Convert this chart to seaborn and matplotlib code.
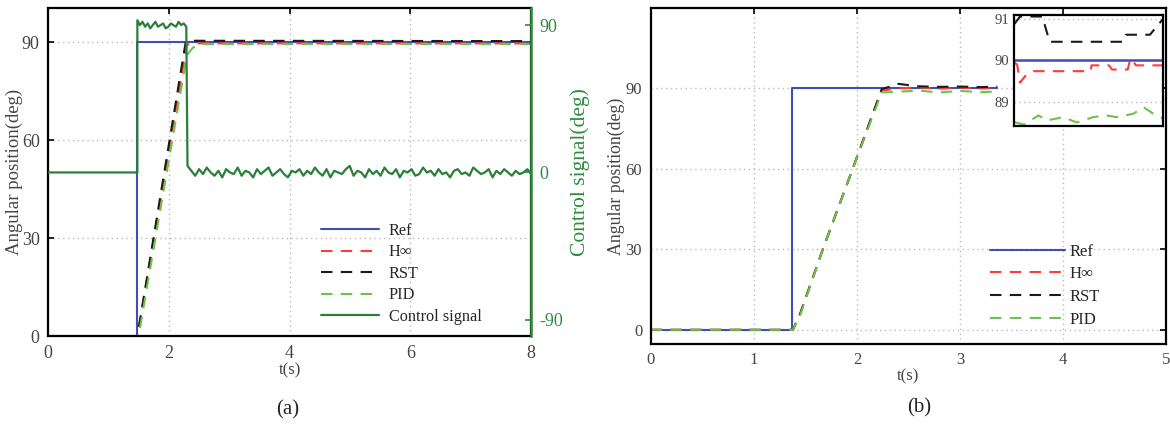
# step response comparison, two panels (a) and (b)
import numpy as np
import matplotlib
matplotlib.use("Agg")
import matplotlib.pyplot as plt
import seaborn as sns

# ---- panel (a) data ----
t_ref_a  = [0, 1.48, 1.48, 8]
ref_a    = [0, 0, 90, 90]
t_hinf_a = [0, 1.48, 2.30, 2.45, 8]
hinf_a   = [0, 0, 89.2, 89.6, 89.6]
t_rst_a  = [0, 1.48, 2.28, 2.40, 8]
rst_a    = [0, 0, 90.0, 90.4, 90.3]
t_pid_a  = [0, 1.50, 2.30, 2.40, 2.55, 8]
pid_a    = [0, 0, 86.0, 88.3, 89.4, 89.4]

# control signal (right axis)
ctrl_pre     = [0, 0]
ctrl_plateau = [93, 90, 92, 89, 91, 88, 90, 92, 89, 90,
                91, 88, 89, 91, 90, 89, 92, 90, 91, 89]
ctrl_low     = [4, 1, -2, 2, -1, 3, 0, -2, 1, -3, 2, 0, -1, 3, -2,
                1, 0, -3, 2, -1, 1, 3, -2, 0, 2, -1, -3, 1, 0, 2,
                -2, 1, -1, 3, 0, -2, 2, -3, 1, 0, -1, 2, 4, -2, 1,
                0, -3, 2, -1, 1, -2, 3, 0, -1, 2, -3, 1, 0, 2, -2,
                -1, 3, 0, 1, -2, 2, -1, 0, -3, 1, 2, -1, 0, -2, 3,
                1, -1, 0, 2, -3, 1, -1, 2, 0, -2, 1, -1, 0, 2, -1]

# ---- panel (b) data ----
t_ref_b  = [0, 1.37, 1.37, 3.36]
ref_b    = [0, 0, 90, 90]
t_resp_b = [0, 1.38, 1.45, 1.67, 1.96, 2.24, 2.40, 2.60, 2.80, 3.00, 3.20, 3.36]
hinf_b   = [0, 0, 6.0, 30, 60, 89.0, 89.8, 90.2, 89.7, 90.1, 89.8, 90.0]
rst_b    = [0, 0, 6.0, 30, 60, 89.5, 91.5, 90.6, 90.4, 90.5, 90.3, 90.5]
pid_b    = [0, 0, 5.5, 30, 60, 88.3, 88.6, 89.0, 88.3, 88.9, 88.4, 88.7]

# zoomed inset
t_ref_z  = [3.40, 5.00]
ref_z    = [90, 90]
t_hinf_z = [3.40, 3.43, 3.46, 3.53, 3.61, 4.22, 4.23, 4.42, 4.45, 4.62, 4.65, 4.71, 5.00]
hinf_z   = [89.94, 89.90, 89.46, 89.66, 89.74, 89.74, 89.88, 89.88, 89.78, 89.78, 90.05, 89.88, 89.88]
t_rst_z  = [3.40, 3.46, 3.70, 3.78, 4.57, 4.60, 4.86, 4.94, 5.00]
rst_z    = [90.88, 91.06, 91.06, 90.45, 90.45, 90.62, 90.62, 90.84, 91.00]
t_pid_z  = [3.40, 3.50, 3.66, 3.75, 3.93, 4.07, 4.25, 4.39, 4.50, 4.68, 4.79, 4.89, 5.00]
pid_z    = [88.51, 88.45, 88.67, 88.55, 88.63, 88.50, 88.63, 88.67, 88.63, 88.71, 88.87, 88.72, 88.59]

C_REF  = "#3f4fb5"
C_HINF = "#ff3b3b"
C_RST  = "#1a1a1a"
C_PID  = "#6cc24a"
C_CTRL = "#2a7f3a"
C_AX2  = "#2e8b3c"
C_TXT  = "#444444"
DASH   = (0, (5.5, 4))

sns.set_style("white")
plt.rcParams["font.family"] = ["Liberation Serif", "DejaVu Serif"]
plt.rcParams["axes.unicode_minus"] = False


def line(ax, x, y, color, ls="-", label=None, lw=1.5):
    sns.lineplot(x=x, y=y, ax=ax, color=color, linestyle=ls, linewidth=lw,
                 label=label, estimator=None, sort=False, legend=False)


def style_axes(ax, fs):
    for sp in ax.spines.values():
        sp.set_linewidth(1.6)
        sp.set_color("black")
    ax.tick_params(direction="in", length=4, width=1.2, top=True, right=True,
                   labelsize=fs, colors="black", pad=6)
    ax.tick_params(axis="both", labelcolor=C_TXT)
    ax.grid(True, linestyle=(0, (1, 2.5)), color="#bbbbbb", linewidth=1.0)
    ax.set_axisbelow(True)


fig = plt.figure(figsize=(11.7, 4.25), dpi=100)

# ---------------- panel (a) ----------------
ax1 = fig.add_axes([0.041, 0.209, 0.413, 0.772])
line(ax1, t_ref_a, ref_a, C_REF, label="Ref")
line(ax1, t_hinf_a, hinf_a, C_HINF, DASH, label="H∞")
line(ax1, t_rst_a, rst_a, C_RST, DASH, label="RST")
line(ax1, t_pid_a, pid_a, C_PID, DASH, label="PID")
ax1.set_xlim(0, 8)
ax1.set_ylim(0, 100.4)
ax1.set_xticks([0, 2, 4, 6, 8])
ax1.set_yticks([0, 30, 60, 90])
style_axes(ax1, 13)
ax1.set_xlabel("t(s)", fontsize=12, labelpad=0.5, color=C_TXT)
ax1.set_ylabel("Angular position(deg)", fontsize=13.5, color=C_TXT)
ax1.yaxis.set_label_coords(-0.052, 0.5)

ax2 = ax1.twinx()
t_ctrl = np.concatenate([[0, 1.48], np.linspace(1.48, 2.29, len(ctrl_plateau)),
                         np.linspace(2.31, 8, len(ctrl_low))])
u_ctrl = ctrl_pre + ctrl_plateau + ctrl_low
line(ax2, t_ctrl, u_ctrl, C_CTRL, label="Control signal", lw=1.6)
ax2.set_ylim(-100, 100.4)
ax2.set_yticks([-90, 0, 90])
for sp in ax2.spines.values():
    sp.set_visible(False)
ax2.spines["right"].set_visible(True)
ax2.spines["right"].set_color(C_AX2)
ax2.spines["right"].set_linewidth(1.8)
ax2.tick_params(axis="y", direction="in", length=4, width=1.2, colors=C_AX2,
                labelsize=13, pad=6)
ax2.set_ylabel("Control signal(deg)", fontsize=15.5, color=C_AX2)
ax2.yaxis.set_label_coords(1.081, 0.5)

h1, l1 = ax1.get_legend_handles_labels()
h2, l2 = ax2.get_legend_handles_labels()
ax2.legend(h1 + h2, l1 + l2, loc="upper left", bbox_to_anchor=(0.274, 0.475),
           bbox_transform=fig.transFigure, frameon=False, fontsize=11.7,
           handlelength=3.6, handletextpad=0.6, labelspacing=0.33,
           borderpad=0, borderaxespad=0)

# ---------------- panel (b) ----------------
ax3 = fig.add_axes([0.556, 0.191, 0.441, 0.790])
line(ax3, t_ref_b, ref_b, C_REF, label="Ref")
line(ax3, t_resp_b, hinf_b, C_HINF, DASH, label="H∞")
line(ax3, t_resp_b, rst_b, C_RST, DASH, label="RST")
line(ax3, t_resp_b, pid_b, C_PID, DASH, label="PID")
ax3.set_xlim(0, 5)
ax3.set_ylim(-5.2, 119.7)
ax3.set_xticks([0, 1, 2, 3, 4, 5])
ax3.set_yticks([0, 30, 60, 90])
style_axes(ax3, 12)
ax3.set_xlabel("t(s)", fontsize=12, labelpad=0, color=C_TXT)
ax3.set_ylabel("Angular position(deg)", fontsize=12.8, color=C_TXT)
ax3.yaxis.set_label_coords(-0.05, 0.5)
h3, l3 = ax3.get_legend_handles_labels()
ax3.legend(h3, l3, loc="upper left", bbox_to_anchor=(0.846, 0.427),
           bbox_transform=fig.transFigure, frameon=False, fontsize=12,
           handlelength=4.5, handletextpad=0.3, labelspacing=0.4,
           borderpad=0, borderaxespad=0)

# inset
ax4 = fig.add_axes([0.867, 0.704, 0.127, 0.261])
line(ax4, t_ref_z, ref_z, C_REF, lw=1.8)
line(ax4, t_hinf_z, hinf_z, C_HINF, DASH)
line(ax4, t_rst_z, rst_z, C_RST, DASH)
line(ax4, t_pid_z, pid_z, C_PID, DASH)
ax4.set_xlim(3.4, 5.0)
ax4.set_ylim(88.42, 91.1)
ax4.set_yticks([89, 90, 91])
ax4.set_xticks([])
for sp in ax4.spines.values():
    sp.set_linewidth(1.6)
    sp.set_color("black")
ax4.tick_params(axis="y", direction="in", length=3, width=1.0, labelsize=10.5,
                labelcolor=C_TXT, pad=4)
ax4.grid(True, axis="y", linestyle=(0, (1, 2.5)), color="#bbbbbb", linewidth=1.0)
ax4.set_xlabel("")
ax4.set_ylabel("")

fig.text(0.246, 0.035, "(a)", fontsize=15, ha="center", va="center")
fig.text(0.786, 0.040, "(b)", fontsize=15, ha="center", va="center")

fig.savefig("out.png", dpi=100)
